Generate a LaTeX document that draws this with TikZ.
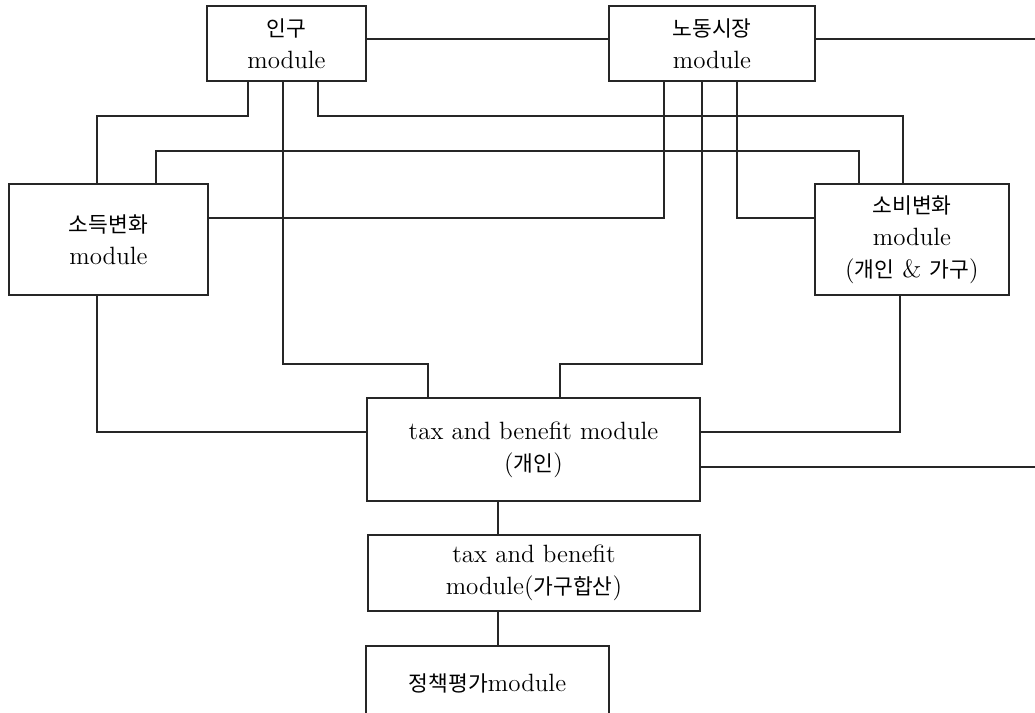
\documentclass[tikz,border=0pt]{standalone}
\usepackage{fontspec}
\newfontfamily\kr{Noto Sans CJK KR}[Scale=0.86]
\begin{document}
\begin{tikzpicture}[x=0.5pt,y=-0.5pt,
  mod/.style={draw=black!85, line width=0.6pt, inner sep=0pt, align=center,
    font=\fontsize{12.5}{16}\selectfont},
  link/.style={draw=black!85, line width=0.6pt}]
\useasboundingbox (0,0) rectangle (1035,713);
\clip (0,0) rectangle (1035,713);
\fill[white] (0,0) rectangle (1035,713);
% boxes
\node[mod, minimum width=79.5pt, minimum height=37.5pt] (pop) at (286.5,43.5) {{\kr 인구}\\module};
\node[mod, minimum width=103pt, minimum height=37.5pt] (lab) at (712,43.5) {{\kr 노동시장}\\module};
\node[mod, minimum width=99.5pt, minimum height=55.5pt] (inc) at (108.5,239.5) {{\kr 소득변화}\\module};
\node[mod, minimum width=97pt, minimum height=55.5pt] (con) at (912,239.5) {{\kr 소비변화}\\module\\({\kr 개인} \& {\kr 가구})};
\node[mod, minimum width=166.5pt, minimum height=51.5pt] (tbi) at (533.5,449.5) {tax and benefit module\\({\kr 개인})};
\node[mod, minimum width=166pt, minimum height=38pt] (tbh) at (534,573) {tax and benefit\\module({\kr 가구합산})};
\node[mod, minimum width=121.5pt, minimum height=37pt] (pol) at (487.5,683) {{\kr 정책평가}module};
% helper coordinates
\foreach \c in {97,156,248,283,318,428,498,560,664,702,737,859,900,903}
  \coordinate (c\c) at (\c,0);
\foreach \r in {39,116,151,218,364,432,467}
  \coordinate (r\r) at (0,\r);
\coordinate (e39) at (1035,39);
\coordinate (e467) at (1035,467);
% connectors
\draw[link] (pop.east |- r39) -- (lab.west |- r39);
\draw[link] (lab.east |- r39) -- (e39);
\draw[link] (pop.south -| c248) |- (r116 -| c97) -- (inc.north -| c97);
\draw[link] (pop.south -| c283) |- (r364 -| c428) -- (tbi.north -| c428);
\draw[link] (pop.south -| c318) |- (r116 -| c903) -- (con.north -| c903);
\draw[link] (lab.south -| c664) |- (inc.east |- r218);
\draw[link] (lab.south -| c702) |- (r364 -| c560) -- (tbi.north -| c560);
\draw[link] (lab.south -| c737) |- (con.west |- r218);
\draw[link] (inc.north -| c156) |- (r151 -| c859) -- (con.north -| c859);
\draw[link] (inc.south -| c97) |- (tbi.west |- r432);
\draw[link] (con.south -| c900) |- (tbi.east |- r432);
\draw[link] (tbi.east |- r467) -- (e467);
\draw[link] (tbi.south -| c498) -- (tbh.north -| c498);
\draw[link] (tbh.south -| c498) -- (pol.north -| c498);
\end{tikzpicture}
\end{document}
